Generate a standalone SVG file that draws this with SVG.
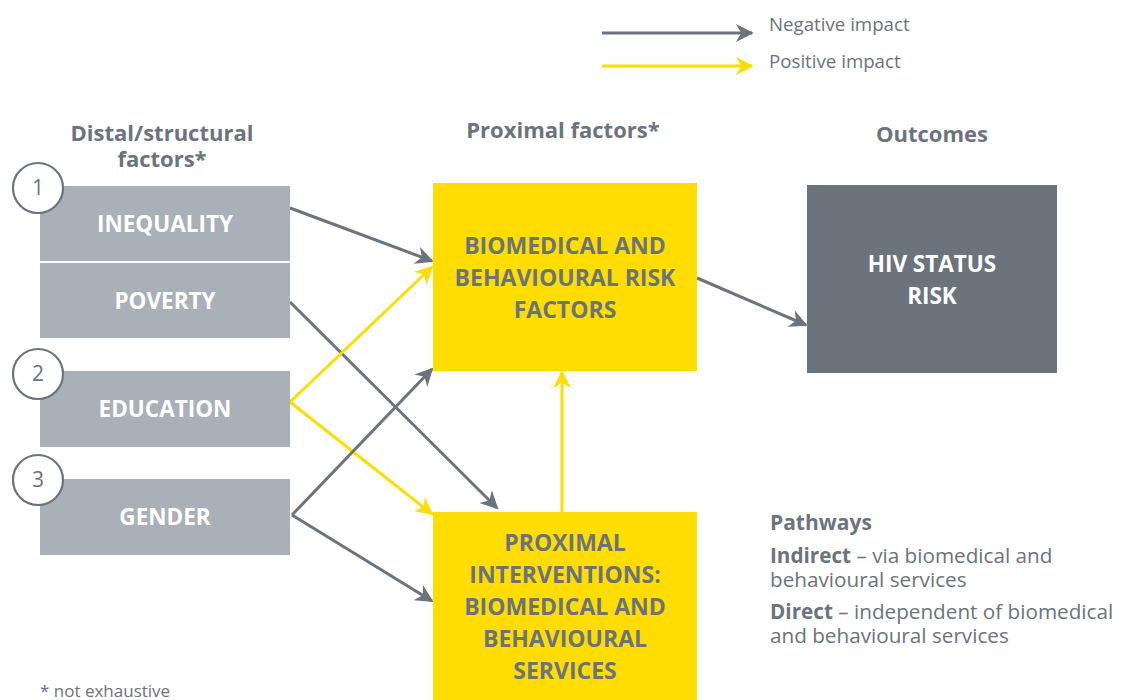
<svg xmlns="http://www.w3.org/2000/svg" width="1123" height="700" viewBox="0 0 1123 700">
<style>
text{font-family:"Open Sans","Noto Sans","Liberation Sans",sans-serif;}
.hdr{font-size:22px;font-weight:700;fill:#6b737c;text-anchor:middle;}
.lbl{font-size:22.5px;font-weight:700;fill:#ffffff;text-anchor:middle;}
.ylbl{font-size:23px;font-weight:700;fill:#6b737c;text-anchor:middle;}
.gbox{fill:#a9b0b7;}
.ybox{fill:#ffdd00;}
.num{fill:#ffffff;stroke:#6b737c;stroke-width:2.2;}
.numt{font-size:21px;fill:#6b737c;text-anchor:middle;}
.neg{stroke:#6b737c;stroke-width:3;fill:none;marker-end:url(#ag);}
.pos{stroke:#ffdd00;stroke-width:3;fill:none;marker-end:url(#ay);}
.body{font-size:20.7px;fill:#6b737c;}
</style>
<defs>
<marker id="ag" viewBox="0 0 10 10" refX="9" refY="5" markerWidth="6" markerHeight="6" orient="auto" markerUnits="strokeWidth"><path d="M0,0 L10,5 L0,10 L3,5 Z" fill="#6b737c"/></marker>
<marker id="ay" viewBox="0 0 10 10" refX="9" refY="5" markerWidth="6" markerHeight="6" orient="auto" markerUnits="strokeWidth"><path d="M0,0 L10,5 L0,10 L3,5 Z" fill="#ffdd00"/></marker>
</defs>
<g id="legend">
<line x1="602" y1="33" x2="752" y2="33" class="neg"/>
<line x1="602" y1="66" x2="752" y2="66" class="pos"/>
<text x="769" y="31" class="body" style="font-size:18.7px">Negative impact</text>
<text x="769" y="68" class="body" style="font-size:18.7px">Positive impact</text>
</g>
<g id="headers">
<text x="162" y="141" class="hdr">Distal/structural</text>
<text x="162" y="167" class="hdr">factors*</text>
<text x="563" y="138" class="hdr">Proximal factors*</text>
<text x="932" y="142" class="hdr">Outcomes</text>
</g>
<g id="connectors">
<line x1="290" y1="208" x2="432" y2="261" class="neg"/>
<line x1="290" y1="302" x2="497" y2="508" class="neg"/>
<line x1="290" y1="402" x2="432" y2="267" class="pos"/>
<line x1="290" y1="402" x2="432" y2="514" class="pos"/>
<line x1="292" y1="515" x2="432" y2="369" class="neg"/>
<line x1="292" y1="515" x2="432" y2="601" class="neg"/>
<line x1="697" y1="278" x2="806" y2="325" class="neg"/>
<line x1="562" y1="512" x2="562" y2="372" class="pos"/>
</g>
<g id="inequality">
<rect x="40" y="186" width="250" height="75" class="gbox"/>
<text x="165" y="232" class="lbl">INEQUALITY</text>
</g>
<g id="poverty">
<rect x="40" y="263" width="250" height="75" class="gbox"/>
<text x="165" y="309" class="lbl">POVERTY</text>
</g>
<g id="education">
<rect x="40" y="371" width="250" height="76" class="gbox"/>
<text x="165" y="417" class="lbl">EDUCATION</text>
</g>
<g id="gender">
<rect x="40" y="479" width="250" height="76" class="gbox"/>
<text x="165" y="525" class="lbl">GENDER</text>
</g>
<g id="n1"><circle cx="38" cy="188" r="25" class="num"/><text x="38" y="195" class="numt">1</text></g>
<g id="n2"><circle cx="38" cy="374" r="25" class="num"/><text x="38" y="381" class="numt">2</text></g>
<g id="n3"><circle cx="38" cy="480" r="25" class="num"/><text x="38" y="487" class="numt">3</text></g>
<g id="risk-factors">
<rect x="433" y="183" width="264" height="188" class="ybox"/>
<text x="565" y="254" class="ylbl">BIOMEDICAL AND</text>
<text x="565" y="286" class="ylbl">BEHAVIOURAL RISK</text>
<text x="565" y="318" class="ylbl">FACTORS</text>
</g>
<g id="interventions">
<rect x="433" y="512" width="264" height="190" class="ybox"/>
<text x="565" y="551" class="ylbl">PROXIMAL</text>
<text x="565" y="583" class="ylbl">INTERVENTIONS:</text>
<text x="565" y="615" class="ylbl">BIOMEDICAL AND</text>
<text x="565" y="647" class="ylbl">BEHAVIOURAL</text>
<text x="565" y="679" class="ylbl">SERVICES</text>
</g>
<g id="hiv">
<rect x="807" y="185" width="250" height="188" fill="#6b737c"/>
<text x="932" y="272" class="lbl">HIV STATUS</text>
<text x="932" y="304" class="lbl">RISK</text>
</g>
<g id="pathways">
<text x="770" y="530" class="body" style="font-size:21px;font-weight:700">Pathways</text>
<text x="770" y="563" class="body"><tspan font-weight="700">Indirect</tspan> – via biomedical and</text>
<text x="770" y="587" class="body">behavioural services</text>
<text x="770" y="619" class="body"><tspan font-weight="700">Direct</tspan> – independent of biomedical</text>
<text x="770" y="643" class="body">and behavioural services</text>
</g>
<text x="40" y="697" class="body" style="font-size:17px">* not exhaustive</text>
</svg>
